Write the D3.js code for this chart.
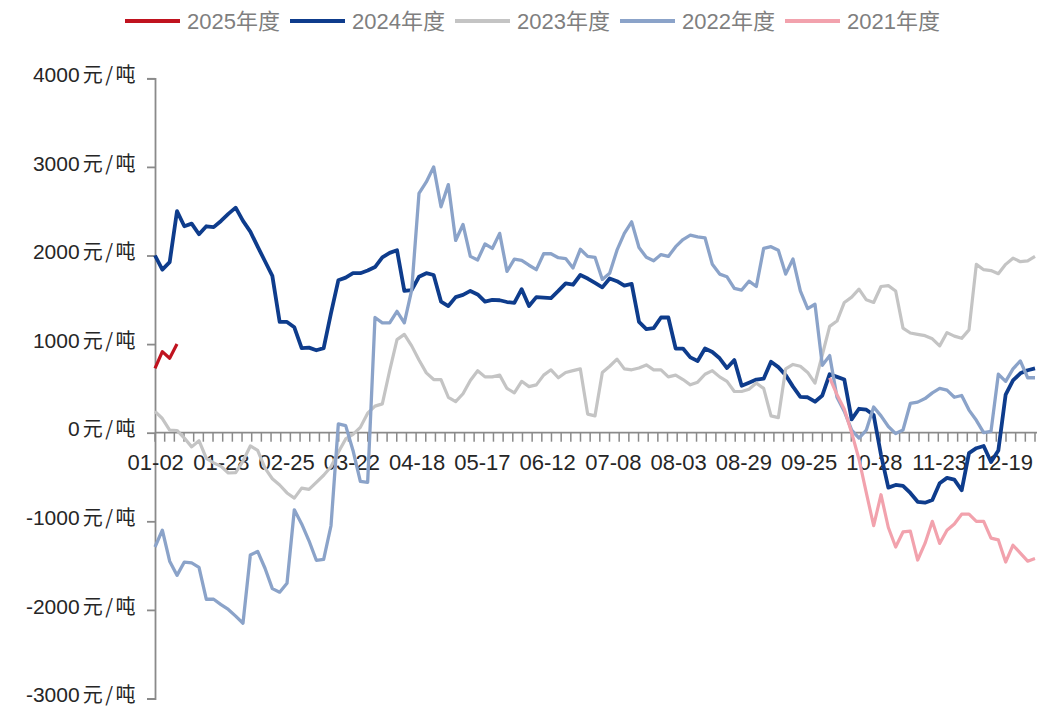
<!DOCTYPE html>
<html>
<head>
<meta charset="utf-8">
<script src="https://cdn.jsdelivr.net/npm/d3@7"></script>
<style>
  body { margin: 0; background: #fff; }
  text { font-family: "Liberation Sans", Arial, "Noto Sans CJK SC", sans-serif; }
</style>
</head>
<body>
<div id="chart"></div>
<script>
// 价差季节性走势（元/吨）
const seriesNames = ["2025年度", "2024年度", "2023年度", "2022年度", "2021年度"];
const seriesColors = ["#C0131F", "#0E3C8C", "#C4C4C4", "#8BA3C9", "#F2A2AD"];
const seriesWidths = [3.2, 3.8, 3.2, 3.3, 3.2];

const tickLabels = ["01-02", "01-28", "02-25", "03-22", "04-18", "05-17", "06-12",
                    "07-08", "08-03", "08-29", "09-25", "10-28", "11-23", "12-19"];
// label positions on the sample axis
const tickIdx = [0.1, 9.05, 17.95, 26.85, 35.75, 44.65, 53.55, 62.5, 71.4, 80.3, 89.2, 98.1, 107, 115.9];
const yTicks = [-3000, -2000, -1000, 0, 1000, 2000, 3000, 4000];
const nSamples = 121;

const year2025 = [725, 915, 840, 1000];
const year2024 = [
  2000, 1840, 1925, 2500, 2330, 2360, 2240, 2330, 2320, 2390,
  2470, 2540, 2390, 2270, 2100, 1935, 1770, 1250, 1250, 1190,
  955, 960, 930, 955, 1350, 1720, 1750, 1800, 1800, 1830,
  1870, 1980, 2030, 2060, 1600, 1610, 1760, 1800, 1780, 1480,
  1430, 1530, 1555, 1600, 1560, 1480, 1500, 1495, 1475, 1465,
  1620, 1430, 1530, 1525, 1520, 1600, 1685, 1670, 1780, 1740,
  1690, 1640, 1740, 1710, 1660, 1680, 1250, 1170, 1180, 1300,
  1300, 950, 950, 850, 810, 950, 910, 840, 730, 820,
  530, 565, 600, 610, 800, 740, 650, 520, 405, 400,
  350, 420, 660, 630, 600, 150, 270, 260, 200, -250,
  -620, -590, -600, -680, -780, -790, -760, -570, -510, -530,
  -650, -230, -175, -150, -330, -200, 430, 590, 670, 705, 725
];
const year2023 = [
  240, 160, 30, 25, -60, -160, -90, -290, -340, -380,
  -455, -450, -320, -150, -200, -400, -520, -590, -680, -738,
  -625, -640, -560, -480, -385, -220, -70, -20, 60, 220,
  300, 325, 700, 1050, 1110, 980, 820, 675, 600, 600,
  400, 350, 440, 590, 700, 630, 630, 650, 500, 450,
  580, 520, 540, 650, 710, 620, 680, 700, 720, 210,
  190, 680, 750, 830, 720, 710, 730, 765, 710, 710,
  630, 650, 600, 540, 570, 660, 700, 630, 580, 465,
  465, 490, 560, 500, 190, 170, 720, 770, 750, 680,
  560, 880, 1200, 1260, 1470, 1530, 1620, 1500, 1470, 1650,
  1660, 1600, 1180, 1125, 1110, 1095, 1060, 980, 1130, 1090,
  1065, 1160, 1900, 1840, 1830, 1795, 1900, 1970, 1930, 1940, 1990
];
const year2022 = [
  -1290, -1100, -1450, -1610, -1460, -1470, -1520, -1880, -1880, -1940,
  -1995, -2070, -2150, -1380, -1340, -1530, -1760, -1800, -1700, -870,
  -1030, -1220, -1440, -1430, -1050, 100, 80, -200, -550, -560,
  1300, 1240, 1240, 1370, 1240, 1610, 2700, 2830, 3000, 2550,
  2800, 2170, 2350, 1990, 1950, 2130, 2080, 2250, 1820, 1960,
  1945, 1890, 1840, 2020, 2020, 1975, 1965, 1860, 2070, 1990,
  1980, 1730, 1800, 2060, 2250, 2380, 2090, 1980, 1940, 2010,
  1990, 2100, 2180, 2230, 2210, 2200, 1900, 1790, 1760, 1630,
  1610, 1710, 1650, 2080, 2100, 2060, 1790, 1960, 1600, 1400,
  1450, 760, 870, 400, 240, 30, -60, 30, 290, 190,
  70, -10, 30, 330, 345, 385, 450, 500, 480, 400,
  420, 255, 140, 0, 15, 660, 580, 720, 810, 620, 620
];
// 2021年度 starts late in the season
const year2021Start = 92;
const year2021 = [
  620, 430, 265, 0, -300, -680, -1050, -700, -1070, -1290,
  -1120, -1110, -1437, -1250, -1000, -1250, -1100, -1030, -920, -920,
  -1000, -1000, -1190, -1210, -1460, -1270, -1360, -1450, -1420
];

const seriesData = [year2025, year2024, year2023, year2022, year2021];
const seriesStart = [0, 0, 0, 0, year2021Start];

const width = 1040, height = 711;
const margin = {top: 78, right: 5, bottom: 12, left: 155};

const svg = d3.select("#chart")
  .append("svg")
  .attr("width", width)
  .attr("height", height)
  .style("background", "#fff");

let x = d3.scaleLinear()
  .domain([0, nSamples - 1])
  .range([margin.left, width - margin.right]);

let y = d3.scaleLinear()
  .domain([-3000, 4000])
  .range([698.5, 78.3]);

// y axis
let yAxis = svg.append("g")
  .attr("transform", `translate(${margin.left},0)`)
  .call(d3.axisLeft(y).tickValues(yTicks).tickSize(8).tickPadding(9));
yAxis.select(".domain").attr("stroke", "#8a8a8a").attr("stroke-width", 1.8);
yAxis.selectAll(".tick line").attr("stroke", "#8a8a8a").attr("stroke-width", 1.8);
yAxis.selectAll(".tick text").each(function(d) {
  let t = d3.select(this).text(null).attr("fill", "#262626");
  t.append("tspan").style("font-size", "21px").text(d);
  t.append("tspan")
    .attr("dx", 3)
    .style("font-family", "'Noto Sans CJK SC', sans-serif")
    .style("font-size", "20px")
    .style("letter-spacing", "2.5px")
    .text("元/吨");
});

// x axis at zero
let minorTicks = d3.range(0, 92).map(i => i * (nSamples - 1) / 91);
let xAxis = svg.append("g")
  .attr("transform", `translate(0,${y(0)})`);
xAxis.append("line")
  .attr("x1", x(0)).attr("x2", x(nSamples - 1) + 2)
  .attr("stroke", "#8a8a8a").attr("stroke-width", 1.8);
xAxis.selectAll("line.minor")
  .data(minorTicks)
  .enter()
  .append("line")
  .attr("class", "minor")
  .attr("x1", d => x(d)).attr("x2", d => x(d))
  .attr("y1", 0).attr("y2", 9)
  .attr("stroke", "#8a8a8a").attr("stroke-width", 1.5);
xAxis.selectAll("text")
  .data(tickLabels)
  .enter()
  .append("text")
  .attr("x", (d, i) => x(tickIdx[i]))
  .attr("y", 37)
  .attr("text-anchor", "middle")
  .attr("fill", "#262626")
  .style("font-size", "22px")
  .text(d => d);

// lines
let line = d3.line()
  .x(d => x(d.i))
  .y(d => y(d.v));

seriesData.forEach(function(vals, k) {
  let pts = vals.map((v, j) => ({i: j + seriesStart[k], v: v}));
  svg.append("path")
    .datum(pts)
    .attr("fill", "none")
    .attr("stroke", seriesColors[k])
    .attr("stroke-width", seriesWidths[k])
    .attr("stroke-linejoin", "round")
    .attr("d", line);
});

// legend
let legend = svg.append("g");
seriesNames.forEach(function(name, k) {
  let lx = 125 + k * 165;
  legend.append("line")
    .attr("x1", lx).attr("x2", lx + 55)
    .attr("y1", 21).attr("y2", 21)
    .attr("stroke", seriesColors[k])
    .attr("stroke-width", 4);
  legend.append("text")
    .attr("x", lx + 62)
    .attr("y", 29)
    .attr("fill", "#7f7f7f")
    .style("font-size", "22px")
    .text(name);
});
</script>
</body>
</html>
